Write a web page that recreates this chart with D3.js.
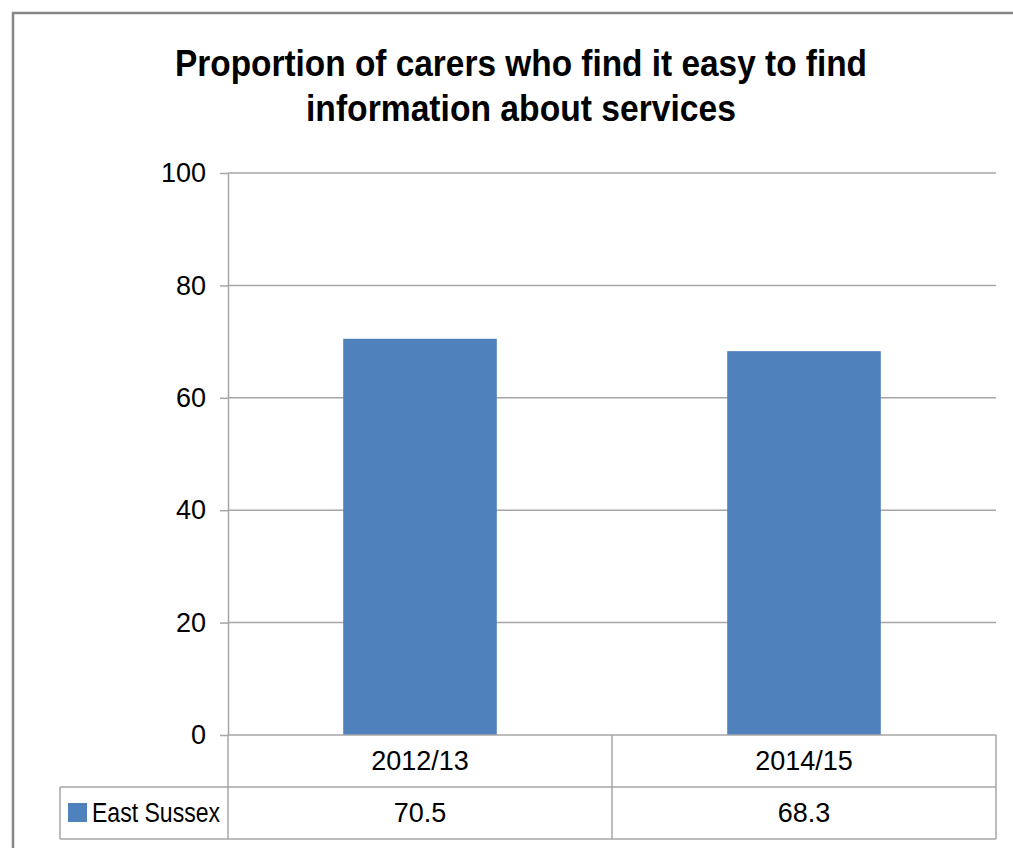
<!DOCTYPE html>
<html>
<head>
<meta charset="utf-8">
<script src="https://cdn.jsdelivr.net/npm/d3@7"></script>
<style>
    body { margin: 0; background: #fff; }
    svg { display: block; }
</style>
</head>
<body>
<div id="chart"></div>
<script>
// Chart data
const titleLines = ["Proportion of carers who find it easy to find", "information about services"]
const categories = ["2012/13", "2014/15"]
const seriesName = "East Sussex"
const seriesValues = [70.5, 68.3]
const yTicks = [0, 20, 40, 60, 80, 100]

const width = 1013
const height = 848
const plot = { left: 228, right: 996, top: 173, bottom: 735 }
const table = { rowH: 52, legendLeft: 60 }
const barColor = "#4F81BD"
const gridColor = "#A6A6A6"
const labelFont = "'Liberation Sans', Arial, sans-serif"

const svg = d3.select("#chart")
    .append("svg")
    .attr("width", width)
    .attr("height", height)

// Outer chart frame (only top and left visible)
svg.append("rect")
    .attr("x", 13)
    .attr("y", 13)
    .attr("width", width + 20)
    .attr("height", height + 20)
    .attr("fill", "none")
    .attr("stroke", "#868686")
    .attr("stroke-width", 2.5)

// Scales
const x = d3.scaleBand()
    .domain(categories)
    .range([plot.left, plot.right])
const y = d3.scaleLinear()
    .domain([0, 100])
    .range([plot.bottom, plot.top])

// Gridlines
svg.append("g")
    .selectAll("line")
    .data(yTicks.filter(d => d > 0))
    .join("line")
    .attr("x1", plot.left)
    .attr("x2", plot.right)
    .attr("y1", d => y(d))
    .attr("y2", d => y(d))
    .attr("stroke", gridColor)
    .attr("stroke-width", 1.5)

// Y axis
const yAxis = svg.append("g")
    .attr("transform", translate(plot.left, 0))
    .call(d3.axisLeft(y).tickValues(yTicks).tickSize(8).tickPadding(14).tickSizeOuter(0))
yAxis.select(".domain").attr("stroke", gridColor).attr("stroke-width", 1.5)
yAxis.selectAll(".tick line").attr("stroke", gridColor).attr("stroke-width", 1.5)
yAxis.selectAll(".tick text")
    .attr("font-family", labelFont)
    .attr("font-size", 27)
    .attr("fill", "#000")

// Bars
const barW = x.bandwidth() * 0.4
svg.append("g")
    .selectAll("rect")
    .data(seriesValues)
    .join("rect")
    .attr("x", (d, i) => x(categories[i]) + (x.bandwidth() - barW) / 2)
    .attr("y", d => y(d))
    .attr("width", barW)
    .attr("height", d => y(0) - y(d))
    .attr("fill", barColor)

// Data table lines
const tbl = svg.append("g").attr("stroke", gridColor).attr("stroke-width", 1.5)
const row1 = plot.bottom + table.rowH
const row2 = row1 + table.rowH
tbl.append("line").attr("x1", plot.left).attr("x2", plot.right).attr("y1", plot.bottom).attr("y2", plot.bottom)
tbl.append("line").attr("x1", table.legendLeft).attr("x2", plot.right).attr("y1", row1).attr("y2", row1)
tbl.append("line").attr("x1", table.legendLeft).attr("x2", plot.right).attr("y1", row2).attr("y2", row2)
tbl.append("line").attr("x1", table.legendLeft).attr("x2", table.legendLeft).attr("y1", row1).attr("y2", row2)
tbl.selectAll(".vl")
    .data([plot.left, ...categories.map(c => x(c) + x.bandwidth())])
    .join("line")
    .attr("x1", d => d).attr("x2", d => d)
    .attr("y1", plot.bottom).attr("y2", row2)

// Category labels and values
svg.append("g")
    .selectAll("text")
    .data(categories)
    .join("text")
    .attr("x", d => x(d) + x.bandwidth() / 2)
    .attr("y", plot.bottom + table.rowH / 2)
    .attr("dy", "0.35em")
    .attr("text-anchor", "middle")
    .attr("font-family", labelFont)
    .attr("font-size", 27)
    .text(d => d)
svg.append("g")
    .selectAll("text")
    .data(seriesValues)
    .join("text")
    .attr("x", (d, i) => x(categories[i]) + x.bandwidth() / 2)
    .attr("y", row1 + table.rowH / 2)
    .attr("dy", "0.35em")
    .attr("text-anchor", "middle")
    .attr("font-family", labelFont)
    .attr("font-size", 27)
    .text(d => d.toFixed(1))

// Legend key inside table
svg.append("rect")
    .attr("x", 68)
    .attr("y", row1 + 16)
    .attr("width", 19)
    .attr("height", 19)
    .attr("fill", barColor)
svg.append("text")
    .attr("x", 92)
    .attr("y", row1 + table.rowH / 2)
    .attr("dy", "0.35em")
    .attr("font-family", labelFont)
    .attr("font-size", 27)
    .attr("textLength", 128)
    .attr("lengthAdjust", "spacingAndGlyphs")
    .text(seriesName)

// Title (condensed face in the original, so squeeze to its width)
const titleWidths = [692, 430]
svg.append("g")
    .selectAll("text")
    .data(titleLines)
    .join("text")
    .attr("x", 521)
    .attr("y", (d, i) => 76 + i * 45)
    .attr("text-anchor", "middle")
    .attr("font-family", labelFont)
    .attr("font-weight", "bold")
    .attr("font-size", 37)
    .attr("textLength", (d, i) => titleWidths[i])
    .attr("lengthAdjust", "spacingAndGlyphs")
    .text(d => d)

function translate(x, y) {
    return `translate(${x},${y})`
}
</script>
</body>
</html>
